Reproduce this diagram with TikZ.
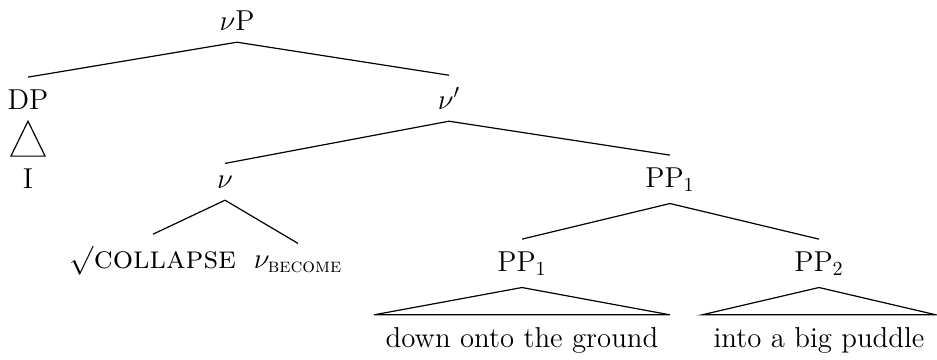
\documentclass[tikz,border=0pt]{standalone}
\usepackage{amsmath}
\usetikzlibrary{positioning}
\tikzset{
  every picture/.style={line width=0.6pt},
  lab/.style={anchor=base, inner xsep=2pt, inner ysep=5.8pt, font=\fontsize{14.4}{17}\selectfont},
  leaf/.style={lab, inner xsep=5.5pt},
  pronoun/.style={lab, minimum width=16.5pt},
}
\begin{document}
\begin{tikzpicture}[x=0.5pt, y=-0.5pt]
  \useasboundingbox (0,0) rectangle (937,359);
  % labels, placed at their baselines
  \node[lab] (vp) at (237,30) {$\nu$P};
  \node[lab] (dp) at (28,109) {DP};
  \node[pronoun] (pron) at (28,188) {I};
  \node[lab] (vbar) at (449,109) {$\nu'$};
  \node[lab] (vhead) at (225,188) {$\nu$};
  \node[lab] (ppa) at (670,187) {PP$_1$};
  \node[lab] (root) at (153,268) {$\surd${\fontsize{16}{17}\selectfont\textsc{collapse}}};
  \node[lab] (vbecome) at (298,268) {$\nu_{\text{\textsc{become}}}$};
  \node[lab] (ppb) at (522,271) {PP$_1$};
  \node[lab] (ppc) at (819,271) {PP$_2$};
  \node[leaf] (downs) at (522,347) {down onto the ground};
  \node[leaf] (intos) at (819,347) {into a big puddle};
  % branches
  \draw (vp.south) -- (dp.north);
  \draw (vp.south) -- (vbar.north);
  \draw (vbar.south) -- (vhead.north);
  \draw (vbar.south) -- (ppa.north);
  \draw (vhead.south) -- (root.north);
  \draw (vhead.south) -- (vbecome.north);
  \draw (ppa.south) -- (ppb.north);
  \draw (ppa.south) -- (ppc.north);
  % roofs
  \draw (dp.south) -- (pron.north west) -- (pron.north east) -- cycle;
  \draw (ppb.south) -- (downs.north west) -- (downs.north east) -- cycle;
  \draw (ppc.south) -- (intos.north west) -- (intos.north east) -- cycle;
\end{tikzpicture}
\end{document}
